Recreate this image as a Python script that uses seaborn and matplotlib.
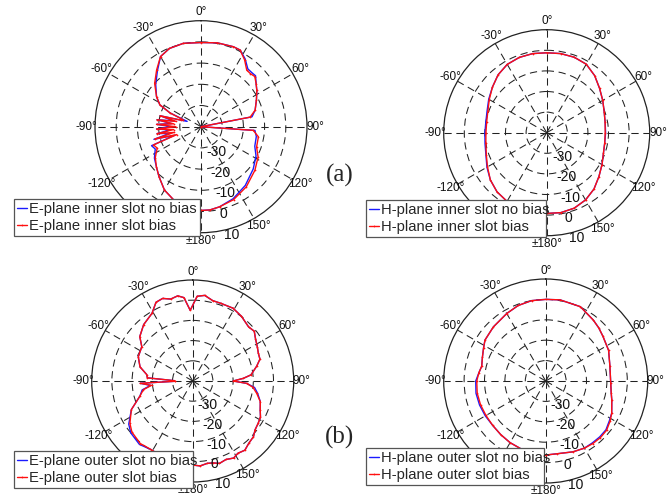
import numpy as np
import pandas as pd
import matplotlib
matplotlib.use("Agg")
import matplotlib.pyplot as plt
import seaborn as sns

# ---------------- data (angles in degrees, gain in dB) ----------------
e_in_ang = [-180, -170, -160, -150, -140, -132, -124, -116, -111, -108, -105, -102, -99, -96,
            -93, -90, -87, -84, -81, -78, -75, -72, -69, -66, -62, -56, -47, -38, -30, -22,
            -12, 0, 11, 22, 27, 33, 39, 43, 47, 52, 57, 64, 73, 79, 88, 92, 94, 100, 110,
            118, 129, 143, 156, 167, 174, 180]
e_in_nobias = [-0.5, -1.5, -3.0, -5.5, -9.2, -11.7, -13.5, -16.0, -15.0, -27.0, -17.0, -25.0,
               -19.0, -25.5, -19.0, -26.0, -19.0, -26.0, -19.0, -27.0, -20.0, -30.0, -33.0,
               -24.0, -18.0, -14.7, -10.8, -6.6, -1.8, -0.2, 0.2, -0.3, 0.3, 0.7, 0.6, -1.8,
               -4.9, -5.0, -4.8, -7.0, -8.6, -10.9, -13.3, -15.5, -40.0, -40.0, -14.5, -13.5,
               -13.0, -10.6, -8.3, -5.3, -2.8, -1.2, -0.5, -0.5]
e_in_bias = [-0.5, -1.5, -3.0, -5.5, -9.2, -11.7, -14.0, -17.0, -16.0, -28.0, -17.5, -27.0,
             -19.0, -27.0, -19.0, -28.0, -19.0, -27.0, -19.0, -28.0, -20.0, -30.0, -31.0,
             -24.0, -18.0, -14.7, -10.1, -6.0, -1.8, -0.2, 0.2, -0.3, 0.3, 0.7, 0.6, -2.3,
             -5.7, -5.8, -5.3, -7.0, -8.6, -10.9, -13.3, -16.4, -40.0, -40.0, -15.3, -12.5,
             -12.1, -9.5, -7.3, -4.5, -2.3, -1.2, -0.5, -0.5]

h_in_ang = [-180, -170, -160, -150, -140, -130, -120, -110, -100, -90, -80, -70, -60, -50,
            -40, -30, -20, -10, 0, 10, 20, 30, 40, 50, 60, 70, 80, 90, 100, 110, 120, 130,
            140, 150, 160, 170, 180]
h_in_nobias = [-0.8, -0.6, -0.9, -1.5, -2.5, -4.3, -6.5, -8.6, -9.6, -10.0, -10.0, -9.2,
               -7.5, -5.6, -3.3, -1.7, -1.1, -1.0, -1.2, -1.0, -1.0, -1.6, -3.8, -6.5, -8.6,
               -10.3, -11.2, -11.4, -11.4, -10.7, -9.0, -6.9, -4.3, -2.3, -1.0, -0.6, -0.8]
h_in_bias = [-0.8, -0.6, -0.9, -1.5, -2.5, -4.3, -6.8, -8.8, -10.0, -10.5, -10.4, -9.6,
             -7.8, -5.6, -3.3, -1.7, -1.1, -1.0, -1.2, -1.0, -1.0, -1.6, -3.8, -6.5, -8.6,
             -10.3, -11.2, -11.6, -11.4, -10.7, -9.0, -6.9, -4.3, -2.3, -1.0, -0.6, -0.8]

e_out_ang = [-180, -172, -164, -156, -149, -140, -130, -124, -115, -106, -100, -96, -92.5,
             -91, -89, -86, -82, -75, -66, -56, -50, -41, -31, -25, -20, -15, -10, -6, -2,
             3, 8, 14, 20, 29, 37, 46, 51, 56, 62, 67, 72, 77, 84, 87, 90, 92.5, 96, 101,
             107, 113, 118, 123, 128, 132.5, 138, 143, 148, 152, 157, 162, 166, 170, 175, 180]
e_out_nobias = [1.6, 1.3, 0.8, 0.2, -0.3, 1.0, 0.0, -1.8, -6.5, -12.8, -14.6, -19.0, -14.0,
                -31.0, -31.0, -17.5, -17.0, -13.0, -10.5, -9.6, -5.8, -3.0, -0.9, 3.0, 3.5,
                2.0, 2.8, 1.5, -5.0, 2.0, 2.8, 1.0, 0.9, 1.2, 0.1, -1.5, -0.8, -2.5, -3.8,
                -4.7, -5.0, -7.5, -11.0, -14.9, -20.0, -13.3, -9.2, -7.2, -5.0, -3.7, -2.0,
                -1.4, -0.8, 0.8, 1.5, 2.9, 2.2, 3.2, 2.2, 2.9, 1.8, 1.4, 2.2, 1.6]
e_out_bias = [1.6, 1.3, 0.8, 0.2, -0.3, 0.4, -0.7, -2.5, -6.5, -12.8, -15.2, -19.5, -14.0,
              -31.0, -31.0, -17.5, -17.0, -13.0, -10.5, -9.6, -5.8, -3.0, -0.9, 3.0, 3.5,
              2.0, 2.8, 1.5, -5.0, 2.0, 2.8, 1.0, 0.9, 1.2, 0.1, -1.5, -0.8, -2.5, -3.8,
              -4.7, -5.0, -7.5, -11.0, -14.9, -20.0, -13.3, -10.0, -7.7, -5.0, -3.7, -2.0,
              -1.4, -0.8, 0.8, 1.5, 2.9, 2.2, 3.2, 2.2, 2.9, 1.8, 1.4, 2.2, 1.6]

h_out_ang = [-180, -170, -160, -150, -140, -130, -120, -110, -100, -90, -83, -77, -69, -62,
             -56, -44, -30, -20, -10, 0, 10, 25, 38, 45, 52, 64, 77, 92, 100, 106, 116, 122,
             129, 136, 143, 150, 159, 171, 180]
h_out_nobias = [-3.7, -4.0, -4.6, -5.1, -5.7, -6.1, -5.8, -5.5, -5.3, -5.7, -7.0, -7.8, -6.8,
                -5.5, -4.1, -3.1, -1.8, -0.6, 0.0, 0.0, 0.4, 0.2, -2.1, -3.2, -4.4, -5.7,
                -7.7, -8.1, -7.4, -6.3, -4.0, -3.2, -2.0, -1.9, -2.0, -2.0, -2.8, -3.9, -3.7]
h_out_bias = [-3.7, -4.0, -4.6, -5.1, -5.7, -6.1, -6.2, -6.0, -5.9, -6.2, -7.0, -7.8, -6.8,
              -5.5, -4.1, -3.1, -1.8, -0.6, 0.0, 0.0, 0.4, 0.2, -2.1, -3.2, -4.4, -5.7,
              -7.7, -8.1, -7.4, -6.3, -4.0, -2.8, -1.6, -1.4, -1.6, -2.0, -2.8, -3.9, -3.7]

legend_labels = [
    ("E-plane inner slot no bias", "E-plane inner slot bias"),
    ("H-plane inner slot no bias", "H-plane inner slot bias"),
    ("E-plane outer slot no bias", "E-plane outer slot bias"),
    ("H-plane outer slot no bias", "H-plane outer slot bias"),
]
ring_values = [-30, -20, -10, 0]
r_min, r_max = -40, 10
radial_labels = ["-30", "-20", "-10", "0", "10"]
# the -150° label sits behind the legend in the reference, so it is not shown
theta_ticks = [0, 30, 60, 90, 120, 150, 180, -120, -90, -60, -30]
theta_labels = ["0°", "30°", "60°", "90°", "120°", "150°", "±180°",
                "-120°", "-90°", "-60°", "-30°"]
panel_tags = ["(a)", "(b)"]

# ---------------- style ----------------
sns.set_theme(style="white")
plt.rcParams["font.family"] = ["Liberation Sans", "DejaVu Sans"]

W, H = 667, 499
fig = plt.figure(figsize=(W / 100, H / 100), dpi=100)

# (center x, center y, radius) in pixels, and legend box (x0, y0, x1, y1) in pixels
panels = [
    (e_in_ang, e_in_nobias, e_in_bias, legend_labels[0], (201, 126.7, 106), (14, 199, 200, 237)),
    (h_in_ang, h_in_nobias, h_in_bias, legend_labels[1], (546.7, 132.7, 103), (366, 200, 546, 236)),
    (e_out_ang, e_out_nobias, e_out_bias, legend_labels[2], (192.7, 381, 101), (14, 451, 193, 487)),
    (h_out_ang, h_out_nobias, h_out_bias, legend_labels[3], (545.7, 381, 102), (366, 448, 544, 484)),
]

for ang, nob, bia, labs, (cx, cy, R), (lx0, ly0, lx1, ly1) in panels:
    ax = fig.add_axes([(cx - R) / W, (H - cy - R) / H, 2 * R / W, 2 * R / H], projection="polar")
    ax.set_theta_zero_location("N")
    ax.set_theta_direction(-1)

    df = pd.DataFrame({"theta": np.deg2rad(ang), "nobias": nob, "bias": bia})
    sns.lineplot(data=df, x="theta", y="nobias", ax=ax, color="#1a1aff", lw=1.0,
                 sort=False, estimator=None, label=labs[0])
    sns.lineplot(data=df, x="theta", y="bias", ax=ax, color="#ff1010", lw=1.0,
                 sort=False, estimator=None, marker=".", markersize=2.5,
                 markeredgewidth=0, label=labs[1])

    ax.set_rticks(ring_values)
    ax.set_rlim(r_min, r_max)
    ax.set_yticklabels([])
    ax.set_xticks(np.deg2rad(np.arange(0, 360, 30)))
    ax.set_xticklabels([])
    ax.set_xlabel("")
    ax.set_ylabel("")
    ax.tick_params(length=0)
    ax.grid(True, color="#222222", lw=0.75, linestyle=(0, (7, 4.5)))
    ax.spines["polar"].set_color("#222222")
    ax.spines["polar"].set_linewidth(0.9)
    ax.set_facecolor("white")

    rl = r_min + 1.08 * (r_max - r_min)
    for t, lab in zip(theta_ticks, theta_labels):
        ax.text(np.deg2rad(t), rl, lab, ha="center", va="center", fontsize=8.5,
                color="#111111", clip_on=False)
    for v, lab in zip(ring_values + [r_max], radial_labels):
        ax.text(np.deg2rad(168), v + 2.2, lab, ha="left", va="center", fontsize=10,
                color="#111111", clip_on=False)

    h, l = ax.get_legend_handles_labels()
    leg = ax.legend(h, l, loc="upper left",
                    bbox_to_anchor=(lx0 / W, 1 - ly1 / H, (lx1 - lx0) / W, (ly1 - ly0) / H),
                    bbox_transform=fig.transFigure, mode="expand", fontsize=10.6,
                    frameon=True, fancybox=False, framealpha=1, edgecolor="#555555",
                    borderpad=0.2, labelspacing=0.2, handlelength=0.7,
                    handletextpad=0.1, borderaxespad=0)
    leg.get_frame().set_linewidth(0.9)
    leg.set_zorder(10)

fig.text(340 / W, 1 - 175 / H, panel_tags[0], fontsize=18, family="Liberation Serif",
         ha="center", va="center")
fig.text(340 / W, 1 - 437 / H, panel_tags[1], fontsize=18, family="Liberation Serif",
         ha="center", va="center")

fig.savefig("out.png", dpi=100, facecolor="white")
